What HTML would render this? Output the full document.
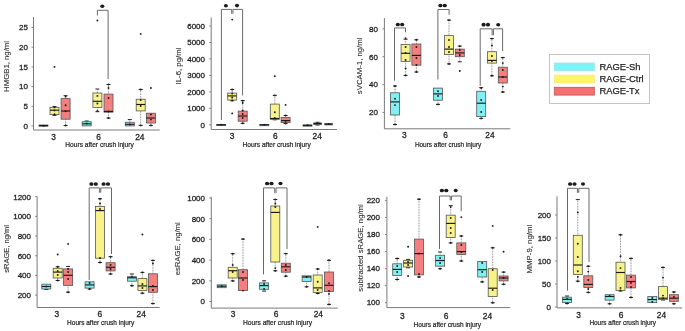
<!DOCTYPE html>
<html><head><meta charset="utf-8"><title>RAGE box plots</title><style>
html,body{margin:0;padding:0;background:#fff;}
svg{display:block;will-change:transform;filter:blur(0.3px)}
text{font-family:"Liberation Sans", sans-serif;fill:#1e1e1e;}
.ax{stroke:#7a7a7a;stroke-width:1;}
.tk{stroke:#7a7a7a;stroke-width:0.9;}
.tl{font-size:8px;text-anchor:end;stroke:#1e1e1e;stroke-width:0.28px;}
.xl{font-size:8.4px;text-anchor:middle;stroke:#1e1e1e;stroke-width:0.28px;}
.hr{font-size:7.4px;stroke:#1e1e1e;stroke-width:0.22px;}
.yl{font-size:8px;text-anchor:middle;fill:#333;stroke:#333;stroke-width:0.12px;}
.lg{font-size:9.4px;stroke:#1e1e1e;stroke-width:0.25px;}
.br{fill:none;stroke:#6a6a6a;stroke-width:1;}
.st{fill:#1a1a1a;}
.wh{stroke:#555;stroke-width:0.8;stroke-dasharray:0.75 0.85;}
.cp{stroke:#222;stroke-width:1;}
.bx{stroke:#555;stroke-width:0.8;}
.md{stroke:#1a1a1a;stroke-width:1.15;}
.dt{fill:#1a1a1a;}
</style></head>
<body><svg width="685" height="331" viewBox="0 0 685 331">
<rect width="685" height="331" fill="#fff"/>
<g><line x1="33.5" y1="17" x2="33.5" y2="130" class="ax"/><line x1="33.5" y1="130" x2="159.7" y2="130" class="ax"/><line x1="31.5" y1="126" x2="33.5" y2="126" class="tk"/><text x="28" y="128.8" class="tl">0</text><line x1="31.5" y1="106.3" x2="33.5" y2="106.3" class="tk"/><text x="28" y="109.1" class="tl">5</text><line x1="31.5" y1="86.6" x2="33.5" y2="86.6" class="tk"/><text x="28" y="89.4" class="tl">10</text><line x1="31.5" y1="66.9" x2="33.5" y2="66.9" class="tk"/><text x="28" y="69.7" class="tl">15</text><line x1="31.5" y1="47.2" x2="33.5" y2="47.2" class="tk"/><text x="28" y="50" class="tl">20</text><line x1="31.5" y1="27.5" x2="33.5" y2="27.5" class="tk"/><text x="28" y="30.3" class="tl">25</text><text x="53.6" y="140" class="xl">3</text><text x="98.5" y="140" class="xl">6</text><text x="139.8" y="140" class="xl">24</text><text x="65.3" y="147" class="hr" textLength="68.5" lengthAdjust="spacingAndGlyphs">Hours after crush injury</text><text transform="translate(9.1,66.45) rotate(-90)" class="yl" textLength="50.9" lengthAdjust="spacingAndGlyphs">HMGB1, ng/ml</text><path d="M97.4 15.4V10.3H108.1V79" class="br"/><ellipse cx="102.3" cy="6.2" rx="2.0500000000000003" ry="1.8" class="st"/><rect x="39" y="125" width="9" height="1.2" fill="#82f0f2" class="bx"/><line x1="39" y1="125.6" x2="48" y2="125.6" class="md"/><circle cx="43.5" cy="125.8" r="0.95" class="dt"/><line x1="54.5" y1="106.6" x2="54.5" y2="107.3" class="wh"/><line x1="52.5" y1="106.6" x2="56.5" y2="106.6" class="cp"/><line x1="54.5" y1="114.6" x2="54.5" y2="115.4" class="wh"/><line x1="52.5" y1="115.4" x2="56.5" y2="115.4" class="cp"/><rect x="50" y="107.3" width="9" height="7.3" fill="#f8f28a" class="bx"/><line x1="50" y1="110.2" x2="59" y2="110.2" class="md"/><circle cx="54.5" cy="107.4" r="0.95" class="dt"/><circle cx="54.5" cy="110.4" r="0.95" class="dt"/><circle cx="54.5" cy="114.3" r="0.95" class="dt"/><circle cx="54.5" cy="66.9" r="0.95" class="dt"/><line x1="65.6" y1="95.7" x2="65.6" y2="98.6" class="wh"/><line x1="63.6" y1="95.7" x2="67.6" y2="95.7" class="cp"/><line x1="65.6" y1="119.2" x2="65.6" y2="125.5" class="wh"/><line x1="63.6" y1="125.5" x2="67.6" y2="125.5" class="cp"/><rect x="61.1" y="98.6" width="9" height="20.6" fill="#f37f7f" class="bx"/><line x1="61.1" y1="111" x2="70.1" y2="111" class="md"/><circle cx="65.6" cy="96.5" r="0.95" class="dt"/><circle cx="65.6" cy="105.2" r="0.95" class="dt"/><circle cx="65.6" cy="111.2" r="0.95" class="dt"/><circle cx="65.6" cy="125.5" r="0.95" class="dt"/><line x1="86.7" y1="121" x2="86.7" y2="121.7" class="wh"/><line x1="84.7" y1="121" x2="88.7" y2="121" class="cp"/><rect x="82.2" y="121.7" width="9" height="4.2" fill="#82f0f2" class="bx"/><line x1="82.2" y1="123.8" x2="91.2" y2="123.8" class="md"/><circle cx="86.7" cy="123.5" r="0.95" class="dt"/><line x1="97.4" y1="89" x2="97.4" y2="93" class="wh"/><line x1="95.4" y1="89" x2="99.4" y2="89" class="cp"/><line x1="97.4" y1="107.5" x2="97.4" y2="111.7" class="wh"/><line x1="95.4" y1="111.7" x2="99.4" y2="111.7" class="cp"/><rect x="92.9" y="93" width="9" height="14.5" fill="#f8f28a" class="bx"/><line x1="92.9" y1="101.3" x2="101.9" y2="101.3" class="md"/><circle cx="97.4" cy="95.9" r="0.95" class="dt"/><circle cx="97.4" cy="103.5" r="0.95" class="dt"/><circle cx="97.4" cy="111" r="0.95" class="dt"/><circle cx="97.4" cy="20.5" r="0.95" class="dt"/><line x1="108.5" y1="84.5" x2="108.5" y2="94.1" class="wh"/><line x1="106.5" y1="84.5" x2="110.5" y2="84.5" class="cp"/><line x1="108.5" y1="112.2" x2="108.5" y2="118" class="wh"/><line x1="106.5" y1="118" x2="110.5" y2="118" class="cp"/><rect x="104" y="94.1" width="9" height="18.1" fill="#f37f7f" class="bx"/><line x1="104" y1="111.4" x2="113" y2="111.4" class="md"/><circle cx="108.5" cy="84.5" r="0.95" class="dt"/><circle cx="108.5" cy="88" r="0.95" class="dt"/><circle cx="108.5" cy="98" r="0.95" class="dt"/><circle cx="108.5" cy="111.5" r="0.95" class="dt"/><circle cx="108.5" cy="118" r="0.95" class="dt"/><line x1="129.8" y1="119.6" x2="129.8" y2="122.3" class="wh"/><line x1="127.8" y1="119.6" x2="131.8" y2="119.6" class="cp"/><rect x="125.3" y="122.3" width="9" height="3.6" fill="#82f0f2" class="bx"/><line x1="125.3" y1="124.3" x2="134.3" y2="124.3" class="md"/><circle cx="129.8" cy="124.5" r="0.95" class="dt"/><line x1="140.7" y1="89.5" x2="140.7" y2="99.2" class="wh"/><line x1="138.7" y1="89.5" x2="142.7" y2="89.5" class="cp"/><line x1="140.7" y1="110.9" x2="140.7" y2="125.4" class="wh"/><line x1="138.7" y1="125.4" x2="142.7" y2="125.4" class="cp"/><rect x="136.2" y="99.2" width="9" height="11.7" fill="#f8f28a" class="bx"/><line x1="136.2" y1="104.5" x2="145.2" y2="104.5" class="md"/><circle cx="140.7" cy="89.5" r="0.95" class="dt"/><circle cx="140.7" cy="100" r="0.95" class="dt"/><circle cx="140.7" cy="106" r="0.95" class="dt"/><circle cx="140.7" cy="125.4" r="0.95" class="dt"/><circle cx="140.7" cy="33.9" r="0.95" class="dt"/><line x1="150.9" y1="123" x2="150.9" y2="125.4" class="wh"/><line x1="148.9" y1="125.4" x2="152.9" y2="125.4" class="cp"/><rect x="146.4" y="113.2" width="9" height="9.8" fill="#f37f7f" class="bx"/><line x1="146.4" y1="118" x2="155.4" y2="118" class="md"/><circle cx="150.9" cy="114.5" r="0.95" class="dt"/><circle cx="150.9" cy="119.6" r="0.95" class="dt"/><circle cx="150.9" cy="125.4" r="0.95" class="dt"/><circle cx="150.9" cy="88" r="0.95" class="dt"/></g><g><line x1="211.2" y1="17.5" x2="211.2" y2="129.5" class="ax"/><line x1="211.2" y1="129.5" x2="337.1" y2="129.5" class="ax"/><line x1="209.2" y1="124.8" x2="211.2" y2="124.8" class="tk"/><text x="205" y="127.6" class="tl">0</text><line x1="209.2" y1="108.3" x2="211.2" y2="108.3" class="tk"/><text x="205" y="111.1" class="tl">1000</text><line x1="209.2" y1="91.9" x2="211.2" y2="91.9" class="tk"/><text x="205" y="94.7" class="tl">2000</text><line x1="209.2" y1="75.4" x2="211.2" y2="75.4" class="tk"/><text x="205" y="78.2" class="tl">3000</text><line x1="209.2" y1="58.9" x2="211.2" y2="58.9" class="tk"/><text x="205" y="61.7" class="tl">4000</text><line x1="209.2" y1="42.5" x2="211.2" y2="42.5" class="tk"/><text x="205" y="45.3" class="tl">5000</text><line x1="209.2" y1="26" x2="211.2" y2="26" class="tk"/><text x="205" y="28.8" class="tl">6000</text><text x="232" y="139" class="xl">3</text><text x="275.3" y="139" class="xl">6</text><text x="317.2" y="139" class="xl">24</text><text x="242.5" y="146.8" class="hr" textLength="68.2" lengthAdjust="spacingAndGlyphs">Hours after crush injury</text><text transform="translate(180.9,66) rotate(-90)" class="yl" textLength="37" lengthAdjust="spacingAndGlyphs">IL-6, pg/ml</text><path d="M221.4 120V9.4H231.65V13.8" class="br"/><ellipse cx="225.9" cy="5.8" rx="2.0500000000000003" ry="1.8" class="st"/><path d="M232.95 13.8V9.4H242.6V95.5" class="br"/><ellipse cx="237" cy="5.6" rx="2.0500000000000003" ry="1.8" class="st"/><rect x="216.7" y="124.4" width="9" height="1.2" fill="#82f0f2" class="bx"/><line x1="216.7" y1="124.8" x2="225.7" y2="124.8" class="md"/><circle cx="221.2" cy="124.8" r="0.95" class="dt"/><line x1="232.2" y1="89.5" x2="232.2" y2="93.1" class="wh"/><line x1="230.2" y1="89.5" x2="234.2" y2="89.5" class="cp"/><line x1="232.2" y1="100.1" x2="232.2" y2="100.7" class="wh"/><line x1="230.2" y1="100.7" x2="234.2" y2="100.7" class="cp"/><rect x="227.7" y="93.1" width="9" height="7" fill="#f8f28a" class="bx"/><line x1="227.7" y1="95.9" x2="236.7" y2="95.9" class="md"/><circle cx="232.2" cy="89.5" r="0.95" class="dt"/><circle cx="232.2" cy="93.5" r="0.95" class="dt"/><circle cx="232.2" cy="97.5" r="0.95" class="dt"/><circle cx="232.2" cy="100.5" r="0.95" class="dt"/><circle cx="232.2" cy="113.4" r="0.95" class="dt"/><circle cx="232.2" cy="19.6" r="0.95" class="dt"/><line x1="242.7" y1="100.7" x2="242.7" y2="111.1" class="wh"/><line x1="240.7" y1="100.7" x2="244.7" y2="100.7" class="cp"/><line x1="242.7" y1="121.2" x2="242.7" y2="123.3" class="wh"/><line x1="240.7" y1="123.3" x2="244.7" y2="123.3" class="cp"/><rect x="238.2" y="111.1" width="9" height="10.1" fill="#f37f7f" class="bx"/><line x1="238.2" y1="116" x2="247.2" y2="116" class="md"/><circle cx="242.7" cy="100.7" r="0.95" class="dt"/><circle cx="242.7" cy="103" r="0.95" class="dt"/><circle cx="242.7" cy="110.5" r="0.95" class="dt"/><circle cx="242.7" cy="114" r="0.95" class="dt"/><circle cx="242.7" cy="118" r="0.95" class="dt"/><circle cx="242.7" cy="123.3" r="0.95" class="dt"/><rect x="259.8" y="124.5" width="9" height="1.2" fill="#82f0f2" class="bx"/><line x1="259.8" y1="124.8" x2="268.8" y2="124.8" class="md"/><circle cx="264.3" cy="124.8" r="0.95" class="dt"/><line x1="274.8" y1="95.4" x2="274.8" y2="104.1" class="wh"/><line x1="272.8" y1="95.4" x2="276.8" y2="95.4" class="cp"/><line x1="274.8" y1="119.3" x2="274.8" y2="119.8" class="wh"/><line x1="272.8" y1="119.8" x2="276.8" y2="119.8" class="cp"/><rect x="270.3" y="104.1" width="9" height="15.2" fill="#f8f28a" class="bx"/><line x1="270.3" y1="118.5" x2="279.3" y2="118.5" class="md"/><circle cx="274.8" cy="95.4" r="0.95" class="dt"/><circle cx="274.8" cy="112.2" r="0.95" class="dt"/><circle cx="274.8" cy="118" r="0.95" class="dt"/><circle cx="274.8" cy="76.3" r="0.95" class="dt"/><line x1="285.6" y1="115.5" x2="285.6" y2="117.5" class="wh"/><line x1="283.6" y1="115.5" x2="287.6" y2="115.5" class="cp"/><line x1="285.6" y1="122.6" x2="285.6" y2="123.5" class="wh"/><line x1="283.6" y1="123.5" x2="287.6" y2="123.5" class="cp"/><rect x="281.1" y="117.5" width="9" height="5.1" fill="#f37f7f" class="bx"/><line x1="281.1" y1="120.6" x2="290.1" y2="120.6" class="md"/><circle cx="285.6" cy="115.5" r="0.95" class="dt"/><circle cx="285.6" cy="121" r="0.95" class="dt"/><circle cx="285.6" cy="123.5" r="0.95" class="dt"/><circle cx="285.6" cy="104.9" r="0.95" class="dt"/><rect x="303" y="125" width="9" height="1.2" fill="#82f0f2" class="bx"/><line x1="303" y1="125.3" x2="312" y2="125.3" class="md"/><circle cx="307.5" cy="125.3" r="0.95" class="dt"/><line x1="317.6" y1="122.3" x2="317.6" y2="122.9" class="wh"/><line x1="315.6" y1="122.3" x2="319.6" y2="122.3" class="cp"/><line x1="317.6" y1="124.6" x2="317.6" y2="125" class="wh"/><line x1="315.6" y1="125" x2="319.6" y2="125" class="cp"/><rect x="313.7" y="122.9" width="7.8" height="1.7" fill="#f8f28a" class="bx"/><line x1="313.7" y1="123.6" x2="321.5" y2="123.6" class="md"/><circle cx="317.6" cy="123.4" r="0.95" class="dt"/><rect x="324.7" y="123.6" width="7.8" height="1.3" fill="#f37f7f" class="bx"/><line x1="324.7" y1="124.2" x2="332.5" y2="124.2" class="md"/><circle cx="328.6" cy="124" r="0.95" class="dt"/></g><g><line x1="384.4" y1="18.1" x2="384.4" y2="128.8" class="ax"/><line x1="384.4" y1="128.8" x2="510.3" y2="128.8" class="ax"/><line x1="382.4" y1="112.4" x2="384.4" y2="112.4" class="tk"/><text x="378" y="115.2" class="tl">20</text><line x1="382.4" y1="84.6" x2="384.4" y2="84.6" class="tk"/><text x="378" y="87.4" class="tl">40</text><line x1="382.4" y1="56.7" x2="384.4" y2="56.7" class="tk"/><text x="378" y="59.5" class="tl">60</text><line x1="382.4" y1="28.8" x2="384.4" y2="28.8" class="tk"/><text x="378" y="31.6" class="tl">80</text><text x="404.4" y="138" class="xl">3</text><text x="445.5" y="138" class="xl">6</text><text x="490" y="138" class="xl">24</text><text x="414.9" y="146.5" class="hr" textLength="66.4" lengthAdjust="spacingAndGlyphs">Hours after crush injury</text><text transform="translate(362,65.85) rotate(-90)" class="yl" textLength="56.7" lengthAdjust="spacingAndGlyphs">sVCAM-1, ng/ml</text><path d="M394.5 80.7V27.9H405.5V32.2" class="br"/><ellipse cx="397.8" cy="24.5" rx="2.1" ry="1.85" class="st"/><ellipse cx="402.2" cy="24.5" rx="2.1" ry="1.85" class="st"/><path d="M437.9 79.5V9.5H449.1V14.8" class="br"/><ellipse cx="440.4" cy="5.5" rx="2.1" ry="1.85" class="st"/><ellipse cx="444.8" cy="5.5" rx="2.1" ry="1.85" class="st"/><path d="M480.2 85.9V28.8H492.15V35.3" class="br"/><ellipse cx="483.6" cy="24.7" rx="2.1" ry="1.85" class="st"/><ellipse cx="488" cy="24.7" rx="2.1" ry="1.85" class="st"/><path d="M493.45 35.3V28.8H502.6V51" class="br"/><ellipse cx="498.2" cy="24.7" rx="2.0500000000000003" ry="1.8" class="st"/><line x1="395" y1="86" x2="395" y2="92.8" class="wh"/><line x1="393" y1="86" x2="397" y2="86" class="cp"/><line x1="395" y1="115" x2="395" y2="124.5" class="wh"/><line x1="393" y1="124.5" x2="397" y2="124.5" class="cp"/><rect x="390.5" y="92.8" width="9" height="22.2" fill="#82f0f2" class="bx"/><line x1="390.5" y1="101.9" x2="399.5" y2="101.9" class="md"/><circle cx="395" cy="86" r="0.95" class="dt"/><circle cx="395" cy="98.7" r="0.95" class="dt"/><circle cx="395" cy="105.1" r="0.95" class="dt"/><circle cx="395" cy="124.5" r="0.95" class="dt"/><line x1="405.6" y1="39.2" x2="405.6" y2="44.4" class="wh"/><line x1="403.6" y1="39.2" x2="407.6" y2="39.2" class="cp"/><line x1="405.6" y1="61.4" x2="405.6" y2="75.4" class="wh"/><line x1="403.6" y1="75.4" x2="407.6" y2="75.4" class="cp"/><rect x="401.1" y="44.4" width="9" height="17" fill="#f8f28a" class="bx"/><line x1="401.1" y1="53.3" x2="410.1" y2="53.3" class="md"/><circle cx="405.6" cy="38.1" r="0.95" class="dt"/><circle cx="405.6" cy="47" r="0.95" class="dt"/><circle cx="405.6" cy="53" r="0.95" class="dt"/><circle cx="405.6" cy="60" r="0.95" class="dt"/><circle cx="405.6" cy="68.5" r="0.95" class="dt"/><circle cx="405.6" cy="75.4" r="0.95" class="dt"/><line x1="416.4" y1="39.8" x2="416.4" y2="44" class="wh"/><line x1="414.4" y1="39.8" x2="418.4" y2="39.8" class="cp"/><line x1="416.4" y1="65.2" x2="416.4" y2="72" class="wh"/><line x1="414.4" y1="72" x2="418.4" y2="72" class="cp"/><rect x="411.9" y="44" width="9" height="21.2" fill="#f37f7f" class="bx"/><line x1="411.9" y1="55.4" x2="420.9" y2="55.4" class="md"/><circle cx="416.4" cy="39.8" r="0.95" class="dt"/><circle cx="416.4" cy="47" r="0.95" class="dt"/><circle cx="416.4" cy="58" r="0.95" class="dt"/><circle cx="416.4" cy="65" r="0.95" class="dt"/><circle cx="416.4" cy="72" r="0.95" class="dt"/><line x1="438" y1="100.2" x2="438" y2="104.4" class="wh"/><line x1="436" y1="104.4" x2="440" y2="104.4" class="cp"/><rect x="433.5" y="88.1" width="9" height="12.1" fill="#82f0f2" class="bx"/><line x1="433.5" y1="93.9" x2="442.5" y2="93.9" class="md"/><circle cx="438" cy="91.3" r="0.95" class="dt"/><circle cx="438" cy="96" r="0.95" class="dt"/><circle cx="438" cy="104.4" r="0.95" class="dt"/><line x1="449" y1="20.1" x2="449" y2="35.6" class="wh"/><line x1="447" y1="20.1" x2="451" y2="20.1" class="cp"/><line x1="449" y1="54.6" x2="449" y2="63.9" class="wh"/><line x1="447" y1="63.9" x2="451" y2="63.9" class="cp"/><rect x="444.5" y="35.6" width="9" height="19" fill="#f8f28a" class="bx"/><line x1="444.5" y1="49.1" x2="453.5" y2="49.1" class="md"/><circle cx="449" cy="20.1" r="0.95" class="dt"/><circle cx="449" cy="40" r="0.95" class="dt"/><circle cx="449" cy="47" r="0.95" class="dt"/><circle cx="449" cy="52" r="0.95" class="dt"/><circle cx="449" cy="63.9" r="0.95" class="dt"/><line x1="459.8" y1="46.1" x2="459.8" y2="49.1" class="wh"/><line x1="457.8" y1="46.1" x2="461.8" y2="46.1" class="cp"/><line x1="459.8" y1="56.7" x2="459.8" y2="61.8" class="wh"/><line x1="457.8" y1="61.8" x2="461.8" y2="61.8" class="cp"/><rect x="455.3" y="49.1" width="9" height="7.6" fill="#f37f7f" class="bx"/><line x1="455.3" y1="52.9" x2="464.3" y2="52.9" class="md"/><circle cx="459.8" cy="46.1" r="0.95" class="dt"/><circle cx="459.8" cy="50" r="0.95" class="dt"/><circle cx="459.8" cy="55" r="0.95" class="dt"/><circle cx="459.8" cy="71" r="0.95" class="dt"/><line x1="481.2" y1="87.7" x2="481.2" y2="91.3" class="wh"/><line x1="479.2" y1="87.7" x2="483.2" y2="87.7" class="cp"/><line x1="481.2" y1="116.6" x2="481.2" y2="118.4" class="wh"/><line x1="479.2" y1="118.4" x2="483.2" y2="118.4" class="cp"/><rect x="476.7" y="91.3" width="9" height="25.3" fill="#82f0f2" class="bx"/><line x1="476.7" y1="103.2" x2="485.7" y2="103.2" class="md"/><circle cx="481.2" cy="88" r="0.95" class="dt"/><circle cx="481.2" cy="100" r="0.95" class="dt"/><circle cx="481.2" cy="112" r="0.95" class="dt"/><circle cx="481.2" cy="118.4" r="0.95" class="dt"/><line x1="491.9" y1="38.6" x2="491.9" y2="51.7" class="wh"/><line x1="489.9" y1="38.6" x2="493.9" y2="38.6" class="cp"/><line x1="491.9" y1="63.1" x2="491.9" y2="75.8" class="wh"/><line x1="489.9" y1="75.8" x2="493.9" y2="75.8" class="cp"/><rect x="487.4" y="51.7" width="9" height="11.4" fill="#f8f28a" class="bx"/><line x1="487.4" y1="60.4" x2="496.4" y2="60.4" class="md"/><circle cx="491.9" cy="38.6" r="0.95" class="dt"/><circle cx="491.9" cy="45.5" r="0.95" class="dt"/><circle cx="491.9" cy="56" r="0.95" class="dt"/><circle cx="491.9" cy="61" r="0.95" class="dt"/><circle cx="491.9" cy="75.8" r="0.95" class="dt"/><line x1="502.8" y1="57.6" x2="502.8" y2="67.2" class="wh"/><line x1="500.8" y1="57.6" x2="504.8" y2="57.6" class="cp"/><line x1="502.8" y1="83" x2="502.8" y2="92" class="wh"/><line x1="500.8" y1="92" x2="504.8" y2="92" class="cp"/><rect x="498.3" y="67.2" width="9" height="15.8" fill="#f37f7f" class="bx"/><line x1="498.3" y1="77" x2="507.3" y2="77" class="md"/><circle cx="502.8" cy="57.6" r="0.95" class="dt"/><circle cx="502.8" cy="63.1" r="0.95" class="dt"/><circle cx="502.8" cy="70" r="0.95" class="dt"/><circle cx="502.8" cy="77" r="0.95" class="dt"/><circle cx="502.8" cy="86.6" r="0.95" class="dt"/><circle cx="502.8" cy="92" r="0.95" class="dt"/></g><g><line x1="37.1" y1="196.5" x2="37.1" y2="307.5" class="ax"/><line x1="37.1" y1="307.5" x2="159.7" y2="307.5" class="ax"/><line x1="35.1" y1="295.1" x2="37.1" y2="295.1" class="tk"/><text x="31" y="297.9" class="tl">200</text><line x1="35.1" y1="275.42" x2="37.1" y2="275.42" class="tk"/><text x="31" y="278.22" class="tl">400</text><line x1="35.1" y1="255.74" x2="37.1" y2="255.74" class="tk"/><text x="31" y="258.54" class="tl">600</text><line x1="35.1" y1="236.06" x2="37.1" y2="236.06" class="tk"/><text x="31" y="238.86" class="tl">800</text><line x1="35.1" y1="216.38" x2="37.1" y2="216.38" class="tk"/><text x="31" y="219.18" class="tl">1000</text><line x1="35.1" y1="196.7" x2="37.1" y2="196.7" class="tk"/><text x="31" y="199.5" class="tl">1200</text><text x="56.8" y="316.8" class="xl">3</text><text x="99.9" y="316.8" class="xl">6</text><text x="141.2" y="316.8" class="xl">24</text><text x="67.1" y="325" class="hr" textLength="67.2" lengthAdjust="spacingAndGlyphs">Hours after crush injury</text><text transform="translate(9.1,248.95) rotate(-90)" class="yl" textLength="47.7" lengthAdjust="spacingAndGlyphs">sRAGE, ng/ml</text><path d="M89.2 280V187.9H99.45V192.7" class="br"/><ellipse cx="91.4" cy="184" rx="2.1" ry="1.85" class="st"/><ellipse cx="95.8" cy="184" rx="2.1" ry="1.85" class="st"/><path d="M100.75 192.7V187.9H111.5V254" class="br"/><ellipse cx="103.6" cy="184" rx="2.1" ry="1.85" class="st"/><ellipse cx="108" cy="184" rx="2.1" ry="1.85" class="st"/><line x1="46.3" y1="289" x2="46.3" y2="289.5" class="wh"/><line x1="44.3" y1="289.5" x2="48.3" y2="289.5" class="cp"/><rect x="41.8" y="284.2" width="9" height="4.8" fill="#82f0f2" class="bx"/><line x1="41.8" y1="286.5" x2="50.8" y2="286.5" class="md"/><circle cx="46.3" cy="286.5" r="0.95" class="dt"/><line x1="57.7" y1="266.8" x2="57.7" y2="268.3" class="wh"/><line x1="55.7" y1="266.8" x2="59.7" y2="266.8" class="cp"/><line x1="57.7" y1="278" x2="57.7" y2="280.5" class="wh"/><line x1="55.7" y1="280.5" x2="59.7" y2="280.5" class="cp"/><rect x="53.2" y="268.3" width="9" height="9.7" fill="#f8f28a" class="bx"/><line x1="53.2" y1="272.1" x2="62.2" y2="272.1" class="md"/><circle cx="57.7" cy="266.8" r="0.95" class="dt"/><circle cx="57.7" cy="271" r="0.95" class="dt"/><circle cx="57.7" cy="275" r="0.95" class="dt"/><circle cx="57.7" cy="280.5" r="0.95" class="dt"/><circle cx="57.7" cy="254.5" r="0.95" class="dt"/><line x1="68.1" y1="266.4" x2="68.1" y2="268.9" class="wh"/><line x1="66.1" y1="266.4" x2="70.1" y2="266.4" class="cp"/><line x1="68.1" y1="285.4" x2="68.1" y2="292.2" class="wh"/><line x1="66.1" y1="292.2" x2="70.1" y2="292.2" class="cp"/><rect x="63.6" y="268.9" width="9" height="16.5" fill="#f37f7f" class="bx"/><line x1="63.6" y1="275.3" x2="72.6" y2="275.3" class="md"/><circle cx="68.1" cy="268.9" r="0.95" class="dt"/><circle cx="68.1" cy="272" r="0.95" class="dt"/><circle cx="68.1" cy="279" r="0.95" class="dt"/><circle cx="68.1" cy="292.2" r="0.95" class="dt"/><circle cx="68.1" cy="243.9" r="0.95" class="dt"/><line x1="89.6" y1="288.1" x2="89.6" y2="289" class="wh"/><line x1="87.6" y1="289" x2="91.6" y2="289" class="cp"/><rect x="85.1" y="281.8" width="9" height="6.3" fill="#82f0f2" class="bx"/><line x1="85.1" y1="284.9" x2="94.1" y2="284.9" class="md"/><circle cx="89.6" cy="283" r="0.95" class="dt"/><circle cx="89.6" cy="289" r="0.95" class="dt"/><line x1="100" y1="198.8" x2="100" y2="206.5" class="wh"/><line x1="98" y1="198.8" x2="102" y2="198.8" class="cp"/><line x1="100" y1="258.2" x2="100" y2="262.5" class="wh"/><line x1="98" y1="262.5" x2="102" y2="262.5" class="cp"/><rect x="95.5" y="206.5" width="9" height="51.7" fill="#f8f28a" class="bx"/><line x1="95.5" y1="210.6" x2="104.5" y2="210.6" class="md"/><circle cx="100" cy="198.8" r="0.95" class="dt"/><circle cx="100" cy="203.5" r="0.95" class="dt"/><circle cx="100" cy="209" r="0.95" class="dt"/><circle cx="100" cy="258" r="0.95" class="dt"/><circle cx="100" cy="262.5" r="0.95" class="dt"/><line x1="110.6" y1="256.7" x2="110.6" y2="262.7" class="wh"/><line x1="108.6" y1="256.7" x2="112.6" y2="256.7" class="cp"/><line x1="110.6" y1="270.9" x2="110.6" y2="274" class="wh"/><line x1="108.6" y1="274" x2="112.6" y2="274" class="cp"/><rect x="106.1" y="262.7" width="9" height="8.2" fill="#f37f7f" class="bx"/><line x1="106.1" y1="267.3" x2="115.1" y2="267.3" class="md"/><circle cx="110.6" cy="256.7" r="0.95" class="dt"/><circle cx="110.6" cy="265" r="0.95" class="dt"/><circle cx="110.6" cy="269" r="0.95" class="dt"/><circle cx="110.6" cy="274" r="0.95" class="dt"/><line x1="131.9" y1="274" x2="131.9" y2="276.7" class="wh"/><line x1="129.9" y1="274" x2="133.9" y2="274" class="cp"/><line x1="131.9" y1="281.2" x2="131.9" y2="285.7" class="wh"/><line x1="129.9" y1="285.7" x2="133.9" y2="285.7" class="cp"/><rect x="127.4" y="276.7" width="9" height="4.5" fill="#82f0f2" class="bx"/><line x1="127.4" y1="277.8" x2="136.4" y2="277.8" class="md"/><circle cx="131.9" cy="276.7" r="0.95" class="dt"/><circle cx="131.9" cy="285.7" r="0.95" class="dt"/><line x1="142.4" y1="272.4" x2="142.4" y2="278.6" class="wh"/><line x1="140.4" y1="272.4" x2="144.4" y2="272.4" class="cp"/><line x1="142.4" y1="290.5" x2="142.4" y2="293.2" class="wh"/><line x1="140.4" y1="293.2" x2="144.4" y2="293.2" class="cp"/><rect x="137.9" y="278.6" width="9" height="11.9" fill="#f8f28a" class="bx"/><line x1="137.9" y1="285.9" x2="146.9" y2="285.9" class="md"/><circle cx="142.4" cy="272.4" r="0.95" class="dt"/><circle cx="142.4" cy="284" r="0.95" class="dt"/><circle cx="142.4" cy="288" r="0.95" class="dt"/><circle cx="142.4" cy="293.2" r="0.95" class="dt"/><circle cx="142.4" cy="234.5" r="0.95" class="dt"/><line x1="152.9" y1="260.4" x2="152.9" y2="273.8" class="wh"/><line x1="150.9" y1="260.4" x2="154.9" y2="260.4" class="cp"/><line x1="152.9" y1="292.3" x2="152.9" y2="303.6" class="wh"/><line x1="150.9" y1="303.6" x2="154.9" y2="303.6" class="cp"/><rect x="148.4" y="273.8" width="9" height="18.5" fill="#f37f7f" class="bx"/><line x1="148.4" y1="286.6" x2="157.4" y2="286.6" class="md"/><circle cx="152.9" cy="260.4" r="0.95" class="dt"/><circle cx="152.9" cy="263.5" r="0.95" class="dt"/><circle cx="152.9" cy="286" r="0.95" class="dt"/><circle cx="152.9" cy="290" r="0.95" class="dt"/><circle cx="152.9" cy="303.6" r="0.95" class="dt"/></g><g><line x1="211.3" y1="196.8" x2="211.3" y2="308.1" class="ax"/><line x1="211.3" y1="308.1" x2="337.8" y2="308.1" class="ax"/><line x1="209.3" y1="301.5" x2="211.3" y2="301.5" class="tk"/><text x="205" y="304.3" class="tl">0</text><line x1="209.3" y1="280.8" x2="211.3" y2="280.8" class="tk"/><text x="205" y="283.6" class="tl">200</text><line x1="209.3" y1="260.1" x2="211.3" y2="260.1" class="tk"/><text x="205" y="262.9" class="tl">400</text><line x1="209.3" y1="239.4" x2="211.3" y2="239.4" class="tk"/><text x="205" y="242.2" class="tl">600</text><line x1="209.3" y1="218.7" x2="211.3" y2="218.7" class="tk"/><text x="205" y="221.5" class="tl">800</text><line x1="209.3" y1="198" x2="211.3" y2="198" class="tk"/><text x="205" y="200.8" class="tl">1000</text><text x="233" y="317.2" class="xl">3</text><text x="276" y="317.2" class="xl">6</text><text x="318.3" y="317.2" class="xl">24</text><text x="243" y="324.5" class="hr" textLength="69" lengthAdjust="spacingAndGlyphs">Hours after crush injury</text><text transform="translate(180.1,248.8) rotate(-90)" class="yl" textLength="53" lengthAdjust="spacingAndGlyphs">esRAGE, ng/ml</text><path d="M263.5 274.4V187.9H274.75V193" class="br"/><ellipse cx="267.1" cy="183.5" rx="2.1" ry="1.85" class="st"/><ellipse cx="271.5" cy="183.5" rx="2.1" ry="1.85" class="st"/><path d="M276.05 193V187.9H287V249" class="br"/><ellipse cx="280.5" cy="183.5" rx="2.0500000000000003" ry="1.8" class="st"/><rect x="217.2" y="284.8" width="9" height="2.9" fill="#82f0f2" class="bx"/><line x1="217.2" y1="286.2" x2="226.2" y2="286.2" class="md"/><circle cx="221.7" cy="286.2" r="0.95" class="dt"/><line x1="232.7" y1="253.7" x2="232.7" y2="267.3" class="wh"/><line x1="230.7" y1="253.7" x2="234.7" y2="253.7" class="cp"/><line x1="232.7" y1="278" x2="232.7" y2="280.9" class="wh"/><line x1="230.7" y1="280.9" x2="234.7" y2="280.9" class="cp"/><rect x="228.2" y="267.3" width="9" height="10.7" fill="#f8f28a" class="bx"/><line x1="228.2" y1="270.7" x2="237.2" y2="270.7" class="md"/><circle cx="232.7" cy="253.7" r="0.95" class="dt"/><circle cx="232.7" cy="265" r="0.95" class="dt"/><circle cx="232.7" cy="272" r="0.95" class="dt"/><circle cx="232.7" cy="280.9" r="0.95" class="dt"/><line x1="243" y1="239.1" x2="243" y2="269.7" class="wh"/><line x1="241" y1="239.1" x2="245" y2="239.1" class="cp"/><rect x="238.5" y="269.7" width="9" height="20.9" fill="#f37f7f" class="bx"/><line x1="238.5" y1="278" x2="247.5" y2="278" class="md"/><circle cx="243" cy="239.1" r="0.95" class="dt"/><circle cx="243" cy="272" r="0.95" class="dt"/><circle cx="243" cy="280" r="0.95" class="dt"/><circle cx="243" cy="290.6" r="0.95" class="dt"/><line x1="264.1" y1="280.8" x2="264.1" y2="282.9" class="wh"/><line x1="262.1" y1="280.8" x2="266.1" y2="280.8" class="cp"/><line x1="264.1" y1="289.3" x2="264.1" y2="291.1" class="wh"/><line x1="262.1" y1="291.1" x2="266.1" y2="291.1" class="cp"/><rect x="259.6" y="282.9" width="9" height="6.4" fill="#82f0f2" class="bx"/><line x1="259.6" y1="285.6" x2="268.6" y2="285.6" class="md"/><circle cx="264.1" cy="284" r="0.95" class="dt"/><circle cx="264.1" cy="289" r="0.95" class="dt"/><line x1="275.3" y1="199.5" x2="275.3" y2="206" class="wh"/><line x1="273.3" y1="199.5" x2="277.3" y2="199.5" class="cp"/><line x1="275.3" y1="262" x2="275.3" y2="270.8" class="wh"/><line x1="273.3" y1="270.8" x2="277.3" y2="270.8" class="cp"/><rect x="270.8" y="206" width="9" height="56" fill="#f8f28a" class="bx"/><line x1="270.8" y1="212.4" x2="279.8" y2="212.4" class="md"/><circle cx="275.3" cy="199.5" r="0.95" class="dt"/><circle cx="275.3" cy="203.5" r="0.95" class="dt"/><circle cx="275.3" cy="207" r="0.95" class="dt"/><circle cx="275.3" cy="268.1" r="0.95" class="dt"/><circle cx="275.3" cy="270.8" r="0.95" class="dt"/><line x1="285.8" y1="253.6" x2="285.8" y2="263.2" class="wh"/><line x1="283.8" y1="253.6" x2="287.8" y2="253.6" class="cp"/><line x1="285.8" y1="272.2" x2="285.8" y2="276.2" class="wh"/><line x1="283.8" y1="276.2" x2="287.8" y2="276.2" class="cp"/><rect x="281.3" y="263.2" width="9" height="9" fill="#f37f7f" class="bx"/><line x1="281.3" y1="266.8" x2="290.3" y2="266.8" class="md"/><circle cx="285.8" cy="253.6" r="0.95" class="dt"/><circle cx="285.8" cy="265" r="0.95" class="dt"/><circle cx="285.8" cy="270" r="0.95" class="dt"/><circle cx="285.8" cy="276.2" r="0.95" class="dt"/><line x1="306.6" y1="281.6" x2="306.6" y2="286.8" class="wh"/><line x1="304.6" y1="286.8" x2="308.6" y2="286.8" class="cp"/><rect x="302.1" y="275.8" width="9" height="5.8" fill="#82f0f2" class="bx"/><line x1="302.1" y1="277" x2="311.1" y2="277" class="md"/><circle cx="306.6" cy="277" r="0.95" class="dt"/><circle cx="306.6" cy="286.8" r="0.95" class="dt"/><line x1="317.7" y1="269" x2="317.7" y2="275" class="wh"/><line x1="315.7" y1="269" x2="319.7" y2="269" class="cp"/><line x1="317.7" y1="292.4" x2="317.7" y2="293.4" class="wh"/><line x1="315.7" y1="293.4" x2="319.7" y2="293.4" class="cp"/><rect x="313.2" y="275" width="9" height="17.4" fill="#f8f28a" class="bx"/><line x1="313.2" y1="287.9" x2="322.2" y2="287.9" class="md"/><circle cx="317.7" cy="269" r="0.95" class="dt"/><circle cx="317.7" cy="281.8" r="0.95" class="dt"/><circle cx="317.7" cy="290" r="0.95" class="dt"/><circle cx="317.7" cy="293.4" r="0.95" class="dt"/><circle cx="317.7" cy="226.9" r="0.95" class="dt"/><line x1="329" y1="260.3" x2="329" y2="272" class="wh"/><line x1="327" y1="260.3" x2="331" y2="260.3" class="cp"/><line x1="329" y1="291.6" x2="329" y2="304.4" class="wh"/><line x1="327" y1="304.4" x2="331" y2="304.4" class="cp"/><rect x="324.5" y="272" width="9" height="19.6" fill="#f37f7f" class="bx"/><line x1="324.5" y1="285.3" x2="333.5" y2="285.3" class="md"/><circle cx="329" cy="260.3" r="0.95" class="dt"/><circle cx="329" cy="283.3" r="0.95" class="dt"/><circle cx="329" cy="290.9" r="0.95" class="dt"/><circle cx="329" cy="293.9" r="0.95" class="dt"/><circle cx="329" cy="304.4" r="0.95" class="dt"/></g><g><line x1="386.9" y1="196.8" x2="386.9" y2="307.6" class="ax"/><line x1="386.9" y1="307.6" x2="510.2" y2="307.6" class="ax"/><line x1="384.9" y1="302.6" x2="386.9" y2="302.6" class="tk"/><text x="380" y="305.4" class="tl">100</text><line x1="384.9" y1="285.6" x2="386.9" y2="285.6" class="tk"/><text x="380" y="288.4" class="tl">120</text><line x1="384.9" y1="268.6" x2="386.9" y2="268.6" class="tk"/><text x="380" y="271.4" class="tl">140</text><line x1="384.9" y1="251.5" x2="386.9" y2="251.5" class="tk"/><text x="380" y="254.3" class="tl">160</text><line x1="384.9" y1="234.5" x2="386.9" y2="234.5" class="tk"/><text x="380" y="237.3" class="tl">180</text><line x1="384.9" y1="217.5" x2="386.9" y2="217.5" class="tk"/><text x="380" y="220.3" class="tl">200</text><line x1="384.9" y1="200.4" x2="386.9" y2="200.4" class="tk"/><text x="380" y="203.2" class="tl">220</text><text x="402.4" y="318.6" class="xl">3</text><text x="446" y="318.6" class="xl">6</text><text x="487.4" y="318.6" class="xl">24</text><text x="413.6" y="327" class="hr" textLength="67.4" lengthAdjust="spacingAndGlyphs">Hours after crush injury</text><text transform="translate(362.5,247.95) rotate(-90)" class="yl" textLength="87.5" lengthAdjust="spacingAndGlyphs">subtracted sRAGE, ng/ml</text><path d="M439.5 249V196H450.25V200.3" class="br"/><ellipse cx="441.9" cy="190.5" rx="2.1" ry="1.85" class="st"/><ellipse cx="446.3" cy="190.5" rx="2.1" ry="1.85" class="st"/><path d="M451.55 200.3V196H461.2V211.2" class="br"/><ellipse cx="455.7" cy="190.5" rx="2.0500000000000003" ry="1.8" class="st"/><line x1="397.2" y1="258.5" x2="397.2" y2="263.8" class="wh"/><line x1="395.2" y1="258.5" x2="399.2" y2="258.5" class="cp"/><line x1="397.2" y1="275.4" x2="397.2" y2="279.5" class="wh"/><line x1="395.2" y1="279.5" x2="399.2" y2="279.5" class="cp"/><rect x="392.7" y="263.8" width="9" height="11.6" fill="#82f0f2" class="bx"/><line x1="392.7" y1="269.4" x2="401.7" y2="269.4" class="md"/><circle cx="397.2" cy="258.5" r="0.95" class="dt"/><circle cx="397.2" cy="266" r="0.95" class="dt"/><circle cx="397.2" cy="272" r="0.95" class="dt"/><circle cx="397.2" cy="279.5" r="0.95" class="dt"/><line x1="408.1" y1="259.4" x2="408.1" y2="260.3" class="wh"/><line x1="406.1" y1="259.4" x2="410.1" y2="259.4" class="cp"/><line x1="408.1" y1="267" x2="408.1" y2="267.8" class="wh"/><line x1="406.1" y1="267.8" x2="410.1" y2="267.8" class="cp"/><rect x="403.6" y="260.3" width="9" height="6.7" fill="#f8f28a" class="bx"/><line x1="403.6" y1="263" x2="412.6" y2="263" class="md"/><circle cx="408.1" cy="262" r="0.95" class="dt"/><circle cx="408.1" cy="265" r="0.95" class="dt"/><circle cx="408.1" cy="246.7" r="0.95" class="dt"/><circle cx="408.1" cy="276" r="0.95" class="dt"/><line x1="419" y1="199.2" x2="419" y2="239.1" class="wh"/><line x1="417" y1="199.2" x2="421" y2="199.2" class="cp"/><line x1="419" y1="274.9" x2="419" y2="277" class="wh"/><line x1="417" y1="277" x2="421" y2="277" class="cp"/><rect x="414.5" y="239.1" width="9" height="35.8" fill="#f37f7f" class="bx"/><line x1="414.5" y1="253.6" x2="423.5" y2="253.6" class="md"/><circle cx="419" cy="199.2" r="0.95" class="dt"/><circle cx="419" cy="253.6" r="0.95" class="dt"/><circle cx="419" cy="274" r="0.95" class="dt"/><circle cx="419" cy="277" r="0.95" class="dt"/><line x1="440.1" y1="252" x2="440.1" y2="255.3" class="wh"/><line x1="438.1" y1="252" x2="442.1" y2="252" class="cp"/><line x1="440.1" y1="266.2" x2="440.1" y2="268.7" class="wh"/><line x1="438.1" y1="268.7" x2="442.1" y2="268.7" class="cp"/><rect x="435.6" y="255.3" width="9" height="10.9" fill="#82f0f2" class="bx"/><line x1="435.6" y1="260.5" x2="444.6" y2="260.5" class="md"/><circle cx="440.1" cy="258" r="0.95" class="dt"/><circle cx="440.1" cy="263" r="0.95" class="dt"/><circle cx="440.1" cy="268.7" r="0.95" class="dt"/><line x1="450.7" y1="205.7" x2="450.7" y2="215.2" class="wh"/><line x1="448.7" y1="205.7" x2="452.7" y2="205.7" class="cp"/><line x1="450.7" y1="237.5" x2="450.7" y2="242.9" class="wh"/><line x1="448.7" y1="242.9" x2="452.7" y2="242.9" class="cp"/><rect x="446.2" y="215.2" width="9" height="22.3" fill="#f8f28a" class="bx"/><line x1="446.2" y1="223.4" x2="455.2" y2="223.4" class="md"/><circle cx="450.7" cy="207" r="0.95" class="dt"/><circle cx="450.7" cy="218" r="0.95" class="dt"/><circle cx="450.7" cy="228" r="0.95" class="dt"/><circle cx="450.7" cy="233" r="0.95" class="dt"/><circle cx="450.7" cy="242.9" r="0.95" class="dt"/><line x1="461.3" y1="236" x2="461.3" y2="242.9" class="wh"/><line x1="459.3" y1="236" x2="463.3" y2="236" class="cp"/><line x1="461.3" y1="254.5" x2="461.3" y2="261" class="wh"/><line x1="459.3" y1="261" x2="463.3" y2="261" class="cp"/><rect x="456.8" y="242.9" width="9" height="11.6" fill="#f37f7f" class="bx"/><line x1="456.8" y1="251.6" x2="465.8" y2="251.6" class="md"/><circle cx="461.3" cy="236" r="0.95" class="dt"/><circle cx="461.3" cy="245" r="0.95" class="dt"/><circle cx="461.3" cy="252" r="0.95" class="dt"/><circle cx="461.3" cy="261" r="0.95" class="dt"/><circle cx="461.3" cy="217.1" r="0.95" class="dt"/><line x1="482.2" y1="277" x2="482.2" y2="281.9" class="wh"/><line x1="480.2" y1="281.9" x2="484.2" y2="281.9" class="cp"/><rect x="477.7" y="261.4" width="9" height="15.6" fill="#82f0f2" class="bx"/><line x1="477.7" y1="269.7" x2="486.7" y2="269.7" class="md"/><circle cx="482.2" cy="263" r="0.95" class="dt"/><circle cx="482.2" cy="272" r="0.95" class="dt"/><circle cx="482.2" cy="281.9" r="0.95" class="dt"/><line x1="492.7" y1="247.8" x2="492.7" y2="268.7" class="wh"/><line x1="490.7" y1="247.8" x2="494.7" y2="247.8" class="cp"/><line x1="492.7" y1="296.5" x2="492.7" y2="302.8" class="wh"/><line x1="490.7" y1="302.8" x2="494.7" y2="302.8" class="cp"/><rect x="488.2" y="268.7" width="9" height="27.8" fill="#f8f28a" class="bx"/><line x1="488.2" y1="288.2" x2="497.2" y2="288.2" class="md"/><circle cx="492.7" cy="247.8" r="0.95" class="dt"/><circle cx="492.7" cy="270" r="0.95" class="dt"/><circle cx="492.7" cy="290" r="0.95" class="dt"/><circle cx="492.7" cy="302.8" r="0.95" class="dt"/><circle cx="492.7" cy="225.9" r="0.95" class="dt"/><line x1="503.6" y1="272.1" x2="503.6" y2="276" class="wh"/><line x1="501.6" y1="272.1" x2="505.6" y2="272.1" class="cp"/><line x1="503.6" y1="280.9" x2="503.6" y2="284.3" class="wh"/><line x1="501.6" y1="284.3" x2="505.6" y2="284.3" class="cp"/><rect x="499.1" y="276" width="9" height="4.9" fill="#f37f7f" class="bx"/><line x1="499.1" y1="278" x2="508.1" y2="278" class="md"/><circle cx="503.6" cy="272.1" r="0.95" class="dt"/><circle cx="503.6" cy="278" r="0.95" class="dt"/><circle cx="503.6" cy="284.3" r="0.95" class="dt"/><circle cx="503.6" cy="251.7" r="0.95" class="dt"/></g><g><line x1="557" y1="196.2" x2="557" y2="307.9" class="ax"/><line x1="557" y1="307.9" x2="682.2" y2="307.9" class="ax"/><line x1="555" y1="307" x2="557" y2="307" class="tk"/><text x="551" y="309.8" class="tl">0</text><line x1="555" y1="284" x2="557" y2="284" class="tk"/><text x="551" y="286.8" class="tl">50</text><line x1="555" y1="261" x2="557" y2="261" class="tk"/><text x="551" y="263.8" class="tl">100</text><line x1="555" y1="238" x2="557" y2="238" class="tk"/><text x="551" y="240.8" class="tl">150</text><line x1="555" y1="215" x2="557" y2="215" class="tk"/><text x="551" y="217.8" class="tl">200</text><text x="578.6" y="318" class="xl">3</text><text x="621.2" y="318" class="xl">6</text><text x="661.5" y="318" class="xl">24</text><text x="589.4" y="325.4" class="hr" textLength="66.5" lengthAdjust="spacingAndGlyphs">Hours after crush injury</text><text transform="translate(532.1,249.1) rotate(-90)" class="yl" textLength="48.7" lengthAdjust="spacingAndGlyphs">MMP-9, ng/ml</text><path d="M567.5 290.7V188.3H577.45V192.8" class="br"/><ellipse cx="570.1" cy="184" rx="2.1" ry="1.85" class="st"/><ellipse cx="574.5" cy="184" rx="2.1" ry="1.85" class="st"/><path d="M578.75 192.8V188.3H589V262" class="br"/><ellipse cx="583" cy="184" rx="2.0500000000000003" ry="1.8" class="st"/><line x1="567.1" y1="296" x2="567.1" y2="297.2" class="wh"/><line x1="565.1" y1="296" x2="569.1" y2="296" class="cp"/><line x1="567.1" y1="302.6" x2="567.1" y2="303.5" class="wh"/><line x1="565.1" y1="303.5" x2="569.1" y2="303.5" class="cp"/><rect x="562.6" y="297.2" width="9" height="5.4" fill="#82f0f2" class="bx"/><line x1="562.6" y1="299.4" x2="571.6" y2="299.4" class="md"/><circle cx="567.1" cy="299" r="0.95" class="dt"/><circle cx="567.1" cy="303.5" r="0.95" class="dt"/><line x1="577.8" y1="199.6" x2="577.8" y2="235.3" class="wh"/><line x1="575.8" y1="199.6" x2="579.8" y2="199.6" class="cp"/><line x1="577.8" y1="274.4" x2="577.8" y2="281.2" class="wh"/><line x1="575.8" y1="281.2" x2="579.8" y2="281.2" class="cp"/><rect x="573.3" y="235.3" width="9" height="39.1" fill="#f8f28a" class="bx"/><line x1="573.3" y1="265" x2="582.3" y2="265" class="md"/><circle cx="577.8" cy="212.4" r="0.95" class="dt"/><circle cx="577.8" cy="243.7" r="0.95" class="dt"/><circle cx="577.8" cy="257" r="0.95" class="dt"/><circle cx="577.8" cy="271.3" r="0.95" class="dt"/><circle cx="577.8" cy="276.9" r="0.95" class="dt"/><circle cx="577.8" cy="281.2" r="0.95" class="dt"/><line x1="588.3" y1="266.3" x2="588.3" y2="275.8" class="wh"/><line x1="586.3" y1="266.3" x2="590.3" y2="266.3" class="cp"/><line x1="588.3" y1="287.4" x2="588.3" y2="292.4" class="wh"/><line x1="586.3" y1="292.4" x2="590.3" y2="292.4" class="cp"/><rect x="583.8" y="275.8" width="9" height="11.6" fill="#f37f7f" class="bx"/><line x1="583.8" y1="284.4" x2="592.8" y2="284.4" class="md"/><circle cx="588.3" cy="266.3" r="0.95" class="dt"/><circle cx="588.3" cy="271.6" r="0.95" class="dt"/><circle cx="588.3" cy="280" r="0.95" class="dt"/><circle cx="588.3" cy="289" r="0.95" class="dt"/><circle cx="588.3" cy="292.4" r="0.95" class="dt"/><line x1="609.6" y1="300.1" x2="609.6" y2="303.8" class="wh"/><line x1="607.6" y1="303.8" x2="611.6" y2="303.8" class="cp"/><rect x="605.1" y="294.7" width="9" height="5.4" fill="#82f0f2" class="bx"/><line x1="605.1" y1="296.5" x2="614.1" y2="296.5" class="md"/><circle cx="609.6" cy="296" r="0.95" class="dt"/><circle cx="609.6" cy="303.8" r="0.95" class="dt"/><line x1="620.5" y1="234.8" x2="620.5" y2="262.2" class="wh"/><line x1="618.5" y1="234.8" x2="622.5" y2="234.8" class="cp"/><line x1="620.5" y1="290.5" x2="620.5" y2="291" class="wh"/><line x1="618.5" y1="291" x2="622.5" y2="291" class="cp"/><rect x="616" y="262.2" width="9" height="28.3" fill="#f8f28a" class="bx"/><line x1="616" y1="272.5" x2="625" y2="272.5" class="md"/><circle cx="620.5" cy="234.8" r="0.95" class="dt"/><circle cx="620.5" cy="256.3" r="0.95" class="dt"/><circle cx="620.5" cy="268.1" r="0.95" class="dt"/><circle cx="620.5" cy="287.9" r="0.95" class="dt"/><circle cx="620.5" cy="290.5" r="0.95" class="dt"/><line x1="631" y1="258.4" x2="631" y2="275.1" class="wh"/><line x1="629" y1="258.4" x2="633" y2="258.4" class="cp"/><line x1="631" y1="287.9" x2="631" y2="297.4" class="wh"/><line x1="629" y1="297.4" x2="633" y2="297.4" class="cp"/><rect x="626.5" y="275.1" width="9" height="12.8" fill="#f37f7f" class="bx"/><line x1="626.5" y1="281.5" x2="635.5" y2="281.5" class="md"/><circle cx="631" cy="258.4" r="0.95" class="dt"/><circle cx="631" cy="277" r="0.95" class="dt"/><circle cx="631" cy="283" r="0.95" class="dt"/><circle cx="631" cy="287" r="0.95" class="dt"/><circle cx="631" cy="297.4" r="0.95" class="dt"/><rect x="647.8" y="296.5" width="9" height="6.1" fill="#82f0f2" class="bx"/><line x1="647.8" y1="299.6" x2="656.8" y2="299.6" class="md"/><circle cx="652.3" cy="298" r="0.95" class="dt"/><circle cx="652.3" cy="302" r="0.95" class="dt"/><line x1="663" y1="267.4" x2="663" y2="286.6" class="wh"/><line x1="661" y1="267.4" x2="665" y2="267.4" class="cp"/><line x1="663" y1="299.5" x2="663" y2="300" class="wh"/><line x1="661" y1="300" x2="665" y2="300" class="cp"/><rect x="658.5" y="286.6" width="9" height="12.9" fill="#f8f28a" class="bx"/><line x1="658.5" y1="298.2" x2="667.5" y2="298.2" class="md"/><circle cx="663" cy="267.4" r="0.95" class="dt"/><circle cx="663" cy="277.6" r="0.95" class="dt"/><circle cx="663" cy="295.6" r="0.95" class="dt"/><circle cx="663" cy="298.2" r="0.95" class="dt"/><line x1="673.9" y1="292" x2="673.9" y2="294.7" class="wh"/><line x1="671.9" y1="292" x2="675.9" y2="292" class="cp"/><line x1="673.9" y1="301.3" x2="673.9" y2="303.8" class="wh"/><line x1="671.9" y1="303.8" x2="675.9" y2="303.8" class="cp"/><rect x="669.4" y="294.7" width="9" height="6.6" fill="#f37f7f" class="bx"/><line x1="669.4" y1="298.2" x2="678.4" y2="298.2" class="md"/><circle cx="673.9" cy="292" r="0.95" class="dt"/><circle cx="673.9" cy="297" r="0.95" class="dt"/><circle cx="673.9" cy="303.8" r="0.95" class="dt"/></g>
<rect x="549.5" y="54.5" width="100" height="49" fill="#fff" stroke="#c4c4c4" stroke-width="1"/><rect x="554.3" y="63" width="40" height="7.8" fill="#7ef3f5" stroke="#a0e4e6" stroke-width="0.8"/><text x="599.4" y="69.8" class="lg">RAGE-Sh</text><rect x="554.3" y="75.15" width="40" height="7.8" fill="#fdf566" stroke="#f2ea80" stroke-width="0.8"/><text x="599.4" y="81.95" class="lg">RAGE-Ctrl</text><rect x="554.3" y="87.3" width="40" height="7.8" fill="#f57070" stroke="#c05050" stroke-width="0.8"/><text x="599.4" y="94.1" class="lg">RAGE-Tx</text>
</svg></body></html>
